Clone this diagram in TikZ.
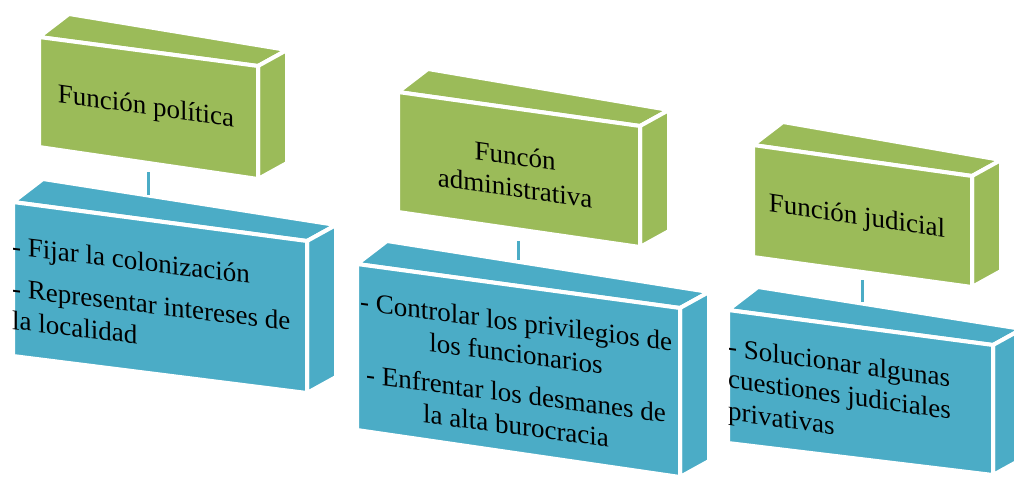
\documentclass[tikz,border=0pt]{standalone}
\usepackage{fontspec}
\setmainfont{Liberation Serif}
\usetikzlibrary{calc}
\definecolor{boxgreen}{RGB}{155,187,89}
\definecolor{boxblue}{RGB}{75,172,198}
\tikzset{
  face/.style={draw=white,line width=4pt,line join=round},
  txt/.style={font=\fontsize{27}{32}\selectfont,inner sep=0pt,text=black},
  conn/.style={draw=boxblue,line width=3pt},
}
\newcommand\mycube[6]{%
  \coordinate (#1tl) at #3;
  \coordinate (#1tr) at #4;
  \coordinate (#1br) at #5;
  \coordinate (#1bl) at #6;
  \path[face,fill=#2] (#1tl) -- (#1tr) -- ($(#1tr)+(29,-16)$) -- ($(#1tl)+(30,-23)$) -- cycle;
  \path[face,fill=#2] (#1tr) -- ($(#1tr)+(29,-16)$) -- ($(#1br)+(29,-16)$) -- (#1br) -- cycle;
  \path[face,fill=#2] (#1tl) -- (#1tr) -- (#1br) -- (#1bl) -- cycle;
}
\begin{document}
\begin{tikzpicture}[x=1pt,y=-1pt]
\useasboundingbox[fill=white] (0,0) rectangle (1014,480);
% boxes
\mycube{ga}{boxgreen}{(39,37)}{(258,66)}{(258,179)}{(39,147)}
\mycube{ba}{boxblue}{(13,202)}{(307,241)}{(307,393)}{(13,356)}
\mycube{gb}{boxgreen}{(398,92)}{(640,126)}{(640,247)}{(398,212)}
\mycube{bb}{boxblue}{(357,264)}{(680,308)}{(680,477)}{(357,430)}
\mycube{gc}{boxgreen}{(753,145)}{(972,176)}{(972,287)}{(753,257)}
\mycube{bc}{boxblue}{(728,310)}{(993,345)}{(993,475)}{(728,443)}
% texts
\node[txt,yslant=-0.14,anchor=center] (t1) at (146,108) {Función política};
\node[txt,yslant=-0.14,anchor=north,align=center] (t2) at (515,146) {Funcón\\administrativa};
\node[txt,yslant=-0.15,anchor=center] (t3) at (857,218) {Función judicial};
\node[txt,yslant=-0.12,anchor=north west,align=left] (t4) at (12,236) {- Fijar la colonización\\[10pt]- Representar intereses de\\la localidad};
\node[txt,yslant=-0.13,anchor=north,align=center] (t5) at (516,312) {- Controlar los privilegios de\\los funcionarios\\[8pt]- Enfrentar los desmanes de\\la alta burocracia};
\node[txt,yslant=-0.14,anchor=north west,align=left] (t6) at (728,337) {- Solucionar algunas\\cuestiones judiciales\\privativas};
% connectors
\coordinate (c1a) at (148,172); \coordinate (c1b) at (148,195);
\coordinate (c2a) at (518,241); \coordinate (c2b) at (518,260);
\coordinate (c3a) at (862,280); \coordinate (c3b) at (862,302);
\draw[conn] (c1a) -- (c1b);
\draw[conn] (c2a) -- (c2b);
\draw[conn] (c3a) -- (c3b);
\end{tikzpicture}
\end{document}
